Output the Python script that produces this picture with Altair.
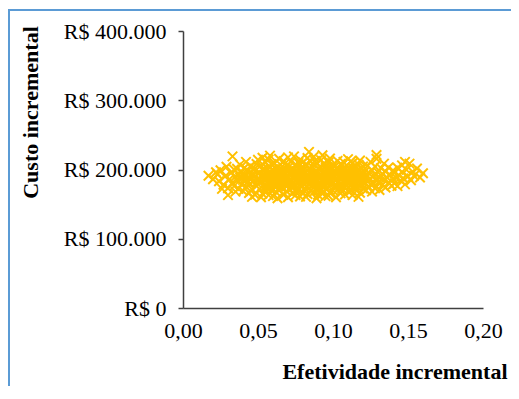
import altair as alt
import pandas as pd

# Efetividade incremental (x) and Custo incremental (y, R$)
xs = [
    # left tail
    0.017, 0.020, 0.022, 0.024, 0.025, 0.027, 0.028, 0.029, 0.030, 0.031,
    0.032, 0.033, 0.034, 0.035, 0.033, 0.034, 0.035, 0.030, 0.026, 0.023,
    # 0.036-0.050
    0.036, 0.036, 0.037, 0.037, 0.038, 0.038, 0.039, 0.039, 0.040, 0.040,
    0.041, 0.041, 0.042, 0.042, 0.043, 0.043, 0.044, 0.044, 0.045, 0.045,
    0.046, 0.046, 0.047, 0.047, 0.048, 0.048, 0.049, 0.049, 0.050, 0.050,
    0.044, 0.046, 0.048, 0.042, 0.040,
    # 0.051-0.055
    0.051, 0.051, 0.052, 0.052, 0.053, 0.053, 0.053, 0.054, 0.054, 0.055,
    0.055, 0.055, 0.052, 0.054, 0.051,
    # 0.056-0.060
    0.056, 0.056, 0.057, 0.057, 0.057, 0.058, 0.058, 0.059, 0.059, 0.059,
    0.060, 0.060, 0.060, 0.058, 0.056, 0.058,
    # 0.061-0.065
    0.061, 0.061, 0.062, 0.062, 0.063, 0.063, 0.063, 0.064, 0.064, 0.064,
    0.065, 0.065, 0.062, 0.065, 0.061, 0.063,
    # 0.066-0.070
    0.066, 0.066, 0.067, 0.067, 0.067, 0.068, 0.068, 0.069, 0.069, 0.069,
    0.070, 0.070, 0.070, 0.068, 0.066, 0.067, 0.069,
    # 0.071-0.075
    0.071, 0.071, 0.072, 0.072, 0.073, 0.073, 0.073, 0.074, 0.074, 0.074,
    0.075, 0.075, 0.075, 0.072, 0.071, 0.073, 0.075,
    # 0.076-0.080
    0.076, 0.076, 0.077, 0.077, 0.078, 0.078, 0.078, 0.079, 0.079, 0.080,
    0.080, 0.080, 0.077, 0.079, 0.076, 0.078, 0.080,
    # 0.081-0.085
    0.081, 0.081, 0.082, 0.082, 0.083, 0.083, 0.083, 0.084, 0.084, 0.084,
    0.085, 0.085, 0.085, 0.082, 0.081, 0.083, 0.085,
    # 0.086-0.090
    0.086, 0.086, 0.087, 0.087, 0.087, 0.088, 0.088, 0.089, 0.089, 0.089,
    0.090, 0.090, 0.090, 0.086, 0.088, 0.087, 0.089,
    # 0.091-0.095
    0.091, 0.091, 0.092, 0.092, 0.092, 0.093, 0.093, 0.094, 0.094, 0.094,
    0.095, 0.095, 0.095, 0.093, 0.091, 0.093, 0.095,
    # 0.096-0.100
    0.096, 0.096, 0.097, 0.097, 0.098, 0.098, 0.098, 0.099, 0.099, 0.100,
    0.100, 0.100, 0.097, 0.099, 0.096, 0.098, 0.100,
    # 0.101-0.105
    0.101, 0.101, 0.102, 0.102, 0.103, 0.103, 0.103, 0.104, 0.104, 0.105,
    0.105, 0.105, 0.102, 0.104, 0.101, 0.103, 0.105,
    # 0.106-0.110
    0.106, 0.106, 0.107, 0.107, 0.108, 0.108, 0.108, 0.109, 0.109, 0.110,
    0.110, 0.110, 0.107, 0.109, 0.106, 0.108,
    # 0.111-0.115
    0.111, 0.111, 0.112, 0.112, 0.113, 0.113, 0.113, 0.114, 0.114, 0.115,
    0.115, 0.115, 0.112, 0.114, 0.111, 0.113,
    # 0.116-0.120
    0.116, 0.116, 0.117, 0.117, 0.118, 0.118, 0.119, 0.119, 0.120, 0.120,
    0.117, 0.118, 0.116, 0.119, 0.120,
    # 0.121-0.140
    0.121, 0.121, 0.122, 0.122, 0.123, 0.123, 0.124, 0.124, 0.125, 0.125,
    0.126, 0.126, 0.127, 0.127, 0.128, 0.128, 0.129, 0.129, 0.130, 0.130,
    0.131, 0.131, 0.132, 0.133, 0.133, 0.134, 0.134, 0.135, 0.135, 0.136,
    0.137, 0.137, 0.138, 0.139, 0.140, 0.140, 0.129,
    # right tail
    0.141, 0.141, 0.142, 0.143, 0.143, 0.144, 0.145, 0.146, 0.146, 0.147,
    0.148, 0.149, 0.150, 0.151, 0.152, 0.153, 0.154, 0.156, 0.158, 0.160,
    0.148,
    # dense core
    0.052, 0.055, 0.058, 0.061, 0.064, 0.067, 0.070, 0.073, 0.076, 0.079,
    0.082, 0.085, 0.088, 0.091, 0.094, 0.097, 0.100, 0.103, 0.106, 0.109,
    0.112, 0.115, 0.118,
    0.053, 0.056, 0.059, 0.062, 0.065, 0.068, 0.071, 0.074, 0.077, 0.080,
    0.083, 0.086, 0.089, 0.092, 0.095, 0.098, 0.101, 0.104, 0.107, 0.110,
    0.113, 0.116, 0.119,
    0.045, 0.047, 0.049, 0.054, 0.057, 0.060, 0.063, 0.066, 0.069, 0.072,
    0.075, 0.078, 0.081, 0.084, 0.087, 0.090, 0.093, 0.096, 0.099, 0.102,
    0.105, 0.108, 0.111, 0.114, 0.122, 0.125, 0.128, 0.131,
]

ys = [
    # left tail
    191000, 186000, 196000, 183000, 199000, 178000, 190000, 204000, 173000, 186000,
    195000, 181000, 200000, 168000, 219000, 176000, 190000, 163000, 172000, 193000,
    # 0.036-0.050
    184500, 201000, 172000, 193500, 188000, 207000, 178500, 196000, 169000, 185000,
    202500, 191000, 175000, 211000, 182000, 197500, 166000, 188500, 205000, 179000,
    193000, 171500, 184000, 199500, 163500, 190500, 208000, 176000, 186500, 214000,
    195000, 160500, 201500, 186000, 194500,
    # 0.051-0.055
    172000, 195500, 183500, 206000, 165000, 189000, 217000, 177500, 199000, 169500,
    186000, 210500, 160000, 192500, 181000,
    # 0.056-0.060
    175000, 202000, 163000, 188500, 214500, 181000, 196500, 170000, 207500, 191000,
    178000, 199500, 161500, 220000, 186500, 172500,
    # 0.061-0.065
    184000, 209000, 167500, 193500, 176500, 203000, 158500, 188000, 215500, 170500,
    197000, 181500, 180000, 207000, 196000, 189500,
    # 0.066-0.070
    174000, 200500, 163500, 186500, 212000, 179500, 195000, 168500, 205500, 190000,
    182500, 217500, 160000, 208500, 187500, 198000, 175500,
    # 0.071-0.075
    171500, 194000, 184500, 211000, 165500, 201500, 189000, 177000, 219000, 196500,
    163000, 185500, 206000, 174500, 204500, 180000, 192000,
    # 0.076-0.080
    169000, 198000, 181500, 209500, 161000, 191500, 214000, 175000, 203000, 186000,
    166500, 199000, 194000, 188500, 185000, 178500, 210500,
    # 0.081-0.085
    173000, 195500, 183000, 207500, 164500, 190500, 216500, 178000, 201000, 225500,
    169500, 187500, 211500, 160500, 185000, 198500, 194000,
    # 0.086-0.090
    176500, 204000, 167000, 189500, 218000, 182000, 196000, 171000, 208500, 191500,
    163500, 185000, 201500, 193000, 212500, 179000, 158500,
    # 0.091-0.095
    180500, 200000, 170000, 192500, 213500, 185500, 165000, 197500, 176000, 209000,
    188000, 161500, 203500, 220500, 171500, 195000, 182000,
    # 0.096-0.100
    174500, 198500, 186500, 210000, 166000, 192000, 216000, 179500, 202500, 169500,
    188000, 207000, 162000, 194500, 183500, 177500, 197000,
    # 0.101-0.105
    176000, 204000, 185000, 160000, 193500, 170500, 212500, 182500, 199000, 165500,
    189500, 208000, 196500, 173500, 190500, 182000, 177500,
    # 0.106-0.110
    172000, 195000, 183500, 211000, 164000, 190500, 203500, 177000, 198000, 186000,
    168500, 215000, 199500, 188000, 206500, 180000,
    # 0.111-0.115
    180000, 201000, 169500, 192500, 185000, 209000, 163000, 176500, 196000, 188500,
    171000, 205000, 212000, 183000, 190000, 197500,
    # 0.116-0.120
    175000, 198000, 186000, 207000, 166500, 191000, 179000, 201000, 172500, 193500,
    160500, 213000, 184500, 187500, 204500,
    # 0.121-0.140
    180000, 196500, 170000, 188500, 205000, 183000, 174500, 194000, 211000, 186500,
    168000, 199000, 179500, 191500, 204500, 173000, 186000, 215500, 181500, 196000,
    170500, 189000, 202000, 178000, 193500, 185000, 208500, 174000, 197000, 188500,
    181000, 203000, 192000, 176500, 186500, 198500, 221000,
    # right tail
    180000, 195000, 188000, 202500, 176000, 191500, 184000, 206000, 196500, 187000,
    178500, 199500, 190000, 208500, 184500, 197000, 191000, 201500, 188500, 194500,
    211000,
    # dense core
    190000, 176000, 203000, 178000, 183000, 192000, 197000, 174000, 205000, 184000,
    192000, 180000, 187000, 190000, 186000, 203000, 181000, 200000, 188000, 183000,
    177000, 193000, 180000,
    200000, 193000, 184000, 201000, 175000, 186000, 180000, 191000, 173000, 193000,
    182000, 198000, 182000, 178000, 196000, 185000, 196000, 190000, 176000, 194000,
    203000, 179000, 195000,
    186000, 192000, 181000, 185000, 179000, 190000, 196000, 181000, 184000, 197000,
    178000, 198000, 179000, 188000, 194000, 175000, 183000, 191000, 185000, 176000,
    197000, 195000, 185000, 190000, 192000, 179000, 193000, 182000,
]

x_ticks = [0.0, 0.05, 0.10, 0.15, 0.20]
y_ticks = [0, 100000, 200000, 300000, 400000]

df = pd.DataFrame({"x": xs, "y": ys})

FONT = "Liberation Serif"
AXIS_COLOR = "#404040"
BORDER = "#5B9BD5"

points = alt.Chart(df).mark_point(
    shape="M-1,-1L1,1M1,-1L-1,1",
    filled=False,
    color="#FFC000",
    strokeWidth=2,
    size=90,
    opacity=1,
).encode(
    x=alt.X(
        "x:Q",
        scale=alt.Scale(domain=[0, 0.2], nice=False),
        axis=alt.Axis(
            values=x_ticks,
            labelExpr="replace(format(datum.value, '.2f'), '.', ',')",
            labelFlush=False,
            labelOverlap=False,
            title="Efetividade incremental",
            titleX=324,
            titleY=70,
            titleAlign="right",
            titleBaseline="alphabetic",
            tickSize=0,
            labelPadding=12,
            grid=False,
        ),
    ),
    y=alt.Y(
        "y:Q",
        scale=alt.Scale(domain=[0, 400000], nice=False),
        axis=alt.Axis(
            values=y_ticks,
            labelExpr="datum.value == 0 ? 'R$ 0' : 'R$ ' + format(datum.value / 1000, 'd') + '.000'",
            labelFlush=False,
            labelOverlap=False,
            title="Custo incremental",
            titleX=-146,
            titleY=81,
            titleAngle=-90,
            titleAlign="center",
            titleBaseline="alphabetic",
            tickSize=5,
            labelPadding=12,
            grid=False,
        ),
    ),
)

top_border = alt.Chart(df).mark_rule(color=BORDER, strokeWidth=2).encode(
    x=alt.value(-175), x2=alt.value(328), y=alt.value(-21)
)
left_border = alt.Chart(df).mark_rule(color=BORDER, strokeWidth=2).encode(
    x=alt.value(-174), y=alt.value(-22), y2=alt.value(355)
)

chart = alt.layer(points, top_border, left_border).properties(
    width=300,
    height=277,
    autosize=alt.AutoSizeParams(type="none"),
    padding={"left": 175, "top": 23, "right": 28, "bottom": 78},
).configure_view(stroke=None).configure_axis(
    labelFont=FONT,
    titleFont=FONT,
    labelFontSize=22,
    titleFontSize=22,
    labelColor="#000000",
    titleColor="#000000",
    titleFontWeight="bold",
    domainColor=AXIS_COLOR,
    tickColor=AXIS_COLOR,
    domainWidth=1.5,
    tickWidth=1.5,
)

chart.save("out.html", embed_options={"renderer": "svg", "actions": False})
